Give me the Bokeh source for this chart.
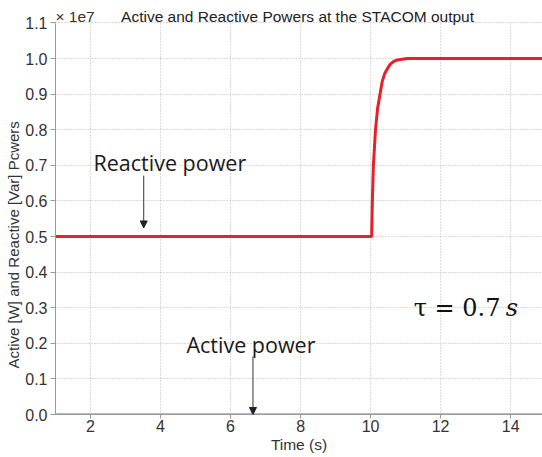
from bokeh.plotting import figure
from bokeh.models import Label, Arrow, NormalHead, FixedTicker, CustomJSTickFormatter, Title
from bokeh.embed import file_html
from bokeh.resources import INLINE

# ---- data ----
t_reactive = [1.0, 10.0, 10.03, 10.05, 10.08, 10.14, 10.2, 10.27, 10.33, 10.4,
              10.5, 10.57, 10.65, 10.76, 10.9, 11.05, 12.0, 13.0, 14.0, 15.0]
q_reactive = [0.5e7, 0.5e7, 0.5e7, 0.6e7, 0.70e7, 0.80e7, 0.86e7, 0.90e7, 0.935e7, 0.957e7,
              0.975e7, 0.985e7, 0.991e7, 0.996e7, 0.998e7, 1.0e7, 1.0e7, 1.0e7, 1.0e7, 1.0e7]
t_active = [1.0, 5.0, 10.0, 15.0]
p_active = [0.0, 0.0, 0.0, 0.0]
x_ticks = [2, 4, 6, 8, 10, 12, 14]
y_ticks = [0, 1e6, 2e6, 3e6, 4e6, 5e6, 6e6, 7e6, 8e6, 9e6, 1e7, 1.1e7]
Y_MAX = 1.1e7

TICK_FONT = "Liberation Sans"
ANN_FONT = "Open Sans"

p = figure(width=542, height=457, x_range=(1, 14.91), y_range=(0, 1.163e7),
           output_backend="svg", toolbar_location=None,
           min_border_left=55, min_border_right=0, min_border_top=0, min_border_bottom=43)
p.outline_line_color = None
p.background_fill_color = "white"

# grids (vertical grid lines drawn only up to the top tick)
p.xgrid.visible = False
p.ygrid.ticker = FixedTicker(ticks=y_ticks)
p.ygrid.grid_line_color = "#b4b4b4"
p.ygrid.grid_line_dash = "1 2"
p.ygrid.grid_line_width = 1
p.segment(x0=x_ticks, y0=[0] * len(x_ticks), x1=x_ticks, y1=[Y_MAX] * len(x_ticks),
          line_color="#b4b4b4", line_dash="1 2", line_width=1)

# axes
p.xaxis.ticker = FixedTicker(ticks=x_ticks)
p.yaxis.ticker = FixedTicker(ticks=y_ticks)
p.yaxis.bounds = (0, Y_MAX)
p.yaxis.formatter = CustomJSTickFormatter(code="return (tick/1e7).toFixed(1);")
for ax in (p.xaxis, p.yaxis):
    ax.major_label_text_font = TICK_FONT
    ax.major_label_text_font_size = "16px"
    ax.major_label_text_color = "#333333"
    ax.axis_line_color = "#9a9a9a"
    ax.major_tick_line_color = "#9a9a9a"
    ax.major_tick_in = 0
    ax.minor_tick_line_color = None
p.yaxis.major_tick_out = 5
p.yaxis.major_label_standoff = 3
p.xaxis.major_tick_out = 4
p.xaxis.major_label_standoff = 1
p.xaxis.axis_label = "Time (s)"
p.xaxis.axis_label_text_font = TICK_FONT
p.xaxis.axis_label_text_font_size = "15.5px"
p.xaxis.axis_label_text_font_style = "normal"
p.xaxis.axis_label_text_color = "#333333"
p.xaxis.axis_label_standoff = 1

ylab = Title(text="Active [W] and Reactive [Var] Pcwers", align="left", offset=46,
             text_font=TICK_FONT, text_font_size="15px", text_font_style="normal",
             text_color="#333333", standoff=2)
p.add_layout(ylab, "left")

# series
p.line(t_active, p_active, line_color="#2fb52f", line_width=2)
p.line(t_reactive, q_reactive, line_color="#e8202a", line_width=3)

# title and exponent label
p.add_layout(Label(x=7.914, y=Y_MAX, text="Active and Reactive Powers at the STACOM output",
                   y_offset=6, text_align="center", text_baseline="alphabetic",
                   text_font=TICK_FONT, text_font_size="15.5px", text_color="#222222"))
p.add_layout(Label(x=1, y=Y_MAX, text="× 1e7", y_offset=6, text_baseline="alphabetic",
                   text_font=TICK_FONT, text_font_size="15.5px", text_color="#333333"))

# annotations
p.add_layout(Label(x=2.086, y=0.709e7, text="Reactive power", text_baseline="alphabetic",
                   text_font=ANN_FONT, text_font_size="21.5px", text_color="#1a1a1a"))
p.add_layout(Arrow(x_start=3.52, y_start=0.671e7, x_end=3.52, y_end=0.524e7,
                   line_color="#333333", line_width=1,
                   end=NormalHead(size=7, fill_color="#222222", line_color="#222222")))
p.add_layout(Label(x=4.74, y=0.196e7, text="Active power", text_baseline="alphabetic",
                   text_font=ANN_FONT, text_font_size="21.5px", text_color="#1a1a1a"))
p.add_layout(Arrow(x_start=6.64, y_start=0.163e7, x_end=6.64, y_end=0.0,
                   line_color="#333333", line_width=1,
                   end=NormalHead(size=7, fill_color="#222222", line_color="#222222")))
p.add_layout(Label(x=11.23, y=0.298e7, text="τ = 0.7", text_baseline="alphabetic",
                   text_font="DejaVu Serif", text_font_size="24px", text_color="#111111"))
p.add_layout(Label(x=13.86, y=0.298e7, text="s", text_baseline="alphabetic",
                   text_font="DejaVu Serif", text_font_size="24px", text_font_style="italic",
                   text_color="#111111"))

open("out.html", "w").write(file_html(p, INLINE))
